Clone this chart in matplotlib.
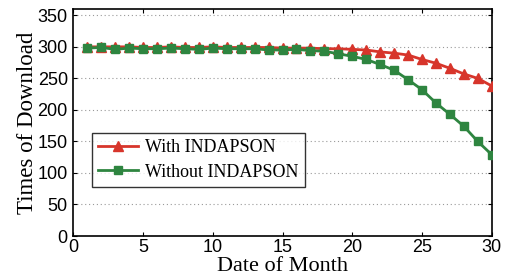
import matplotlib
matplotlib.use("Agg")
import matplotlib.pyplot as plt
import numpy as np

days = list(range(1, 31))
with_indapson = [300, 300, 300, 300, 299, 299, 300, 299, 299, 300, 299, 299,
                 299, 299, 298, 298, 298, 297, 297, 296, 295, 292, 290, 287,
                 280, 274, 266, 257, 250, 238]
without_indapson = [298, 299, 296, 298, 297, 297, 298, 297, 296, 298, 297, 297,
                    297, 295, 295, 296, 294, 293, 289, 285, 280, 272, 263, 248,
                    232, 211, 193, 174, 150, 129]
labels = ["With INDAPSON", "Without INDAPSON"]
xticks = [0, 5, 10, 15, 20, 25, 30]
yticks = [0, 50, 100, 150, 200, 250, 300, 350]

red = "#d7352b"
green = "#2e8540"

fig = plt.figure(figsize=(5.15, 2.78), dpi=100)
ax = fig.add_axes([0.1424, 0.151, 0.8124, 0.8166])

ax.plot(days, with_indapson, color=red, lw=2.0, marker="^", ms=7,
        mec=red, mfc=red, label=labels[0], zorder=3)
ax.plot(days, without_indapson, color=green, lw=2.0, marker="s", ms=5.5,
        mec=green, mfc=green, label=labels[1], zorder=3)

ax.set_xlim(0, 30)
ax.set_ylim(0, 360)
ax.set_xticks(xticks)
ax.set_yticks(yticks)
ax.yaxis.grid(True, linestyle=(0, (1, 2.5)), color="#999999", lw=0.8)
ax.tick_params(direction="in", top=True, right=True, length=3, width=0.8,
               labelsize=13)
ax.tick_params(axis="x", pad=2)
ax.tick_params(axis="y", pad=4)
for lab in ax.get_xticklabels() + ax.get_yticklabels():
    lab.set_family("Liberation Sans")
for s in ax.spines.values():
    s.set_linewidth(1.2)

ax.set_xlabel("Date of Month", family="Liberation Serif", fontsize=16, labelpad=1)
ax.set_ylabel("Times of Download", family="Liberation Serif", fontsize=16.5, labelpad=0)

leg = ax.legend(loc="upper left", bbox_to_anchor=(0.031, 0.477),
                prop={"family": "Liberation Serif", "size": 13},
                frameon=True, fancybox=False, edgecolor="black",
                handlelength=2.2, borderpad=0.35, labelspacing=0.4,
                handletextpad=0.4, borderaxespad=0.3)
leg.get_frame().set_linewidth(1.0)

fig.savefig("out.png", dpi=100)
